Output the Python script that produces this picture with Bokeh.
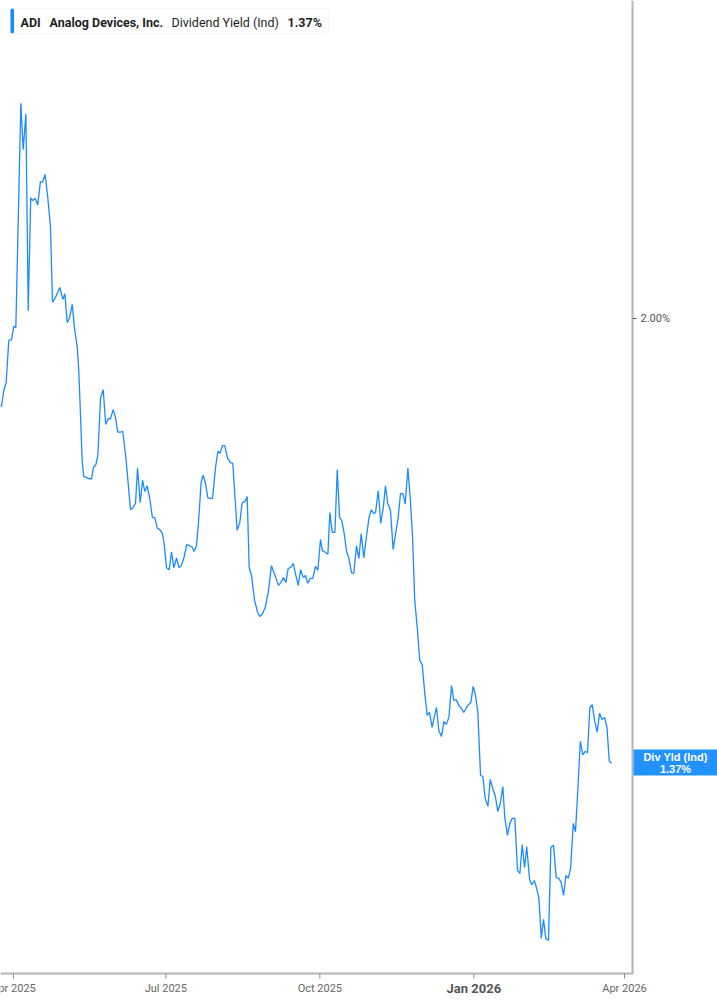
import pandas as pd
from bokeh.plotting import figure
from bokeh.models import Range1d, BoxAnnotation, Label, ColumnDataSource
from bokeh.core.properties import value
from bokeh.embed import file_html
from bokeh.resources import INLINE

# ---------------- data ----------------
start_date = "2025-03-24"
day_offsets = [0.2, 0.8, 2.2, 3.6, 5.2, 6.8, 8.2, 9.4, 12.4, 13.8,
               15.4, 16.8, 18.3, 19.4, 21.0, 22.5, 24.1, 25.3, 26.9, 28.5,
               30.1, 31.3, 32.7, 35.7, 37.5, 38.7, 40.1, 41.5, 43.1, 44.4,
               46.1, 47.0, 48.0, 49.0, 50.0, 51.6, 53.0, 54.6, 55.8, 57.2,
               58.4, 60.0, 61.6, 63.1, 64.6, 65.9, 67.6, 68.9, 70.3, 71.9,
               73.3, 75.3, 77.9, 79.3, 80.9, 82.1, 83.7, 85.1, 86.4, 87.9,
               89.3, 91.0, 92.4, 93.9, 95.4, 97.0, 98.0, 99.4, 101.0, 102.4,
               103.8, 105.4, 106.8, 108.2, 109.7, 111.5, 113.1, 114.8, 115.9, 117.3,
               118.5, 120.1, 121.3, 122.7, 124.1, 126.9, 128.7, 130.1, 131.3, 132.9,
               134.2, 135.9, 137.5, 139.0, 141.6, 143.2, 144.6, 146.4, 147.6, 148.8,
               150.2, 152.0, 153.8, 155.1, 156.6, 158.4, 160.2, 162.1, 163.1, 164.7,
               166.3, 167.7, 169.3, 170.7, 172.1, 173.5, 175.1, 176.7, 178.1, 179.5,
               181.1, 182.4, 183.8, 185.4, 186.8, 188.4, 189.8, 191.4, 192.6, 194.2,
               195.8, 197.0, 198.4, 200.0, 201.4, 202.8, 204.1, 205.6, 206.9, 208.3,
               209.9, 211.3, 212.9, 214.3, 215.7, 217.3, 218.7, 220.3, 221.7, 223.1,
               224.3, 225.9, 227.4, 228.9, 230.2, 231.6, 233.2, 234.8, 236.2, 237.6,
               239.2, 240.6, 242.0, 243.6, 245.0, 246.4, 247.7, 249.2, 250.7, 252.2,
               253.7, 255.1, 256.5, 258.1, 259.3, 260.7, 262.1, 263.7, 265.1, 266.5,
               268.1, 269.7, 271.0, 272.5, 274.0, 275.5, 277.0, 278.4, 279.8, 281.2,
               282.6, 284.0, 285.4, 287.0, 288.4, 289.8, 291.4, 292.8, 294.3, 295.8,
               297.3, 298.8, 300.3, 301.5, 303.1, 304.5, 305.9, 307.5, 309.1, 310.5,
               311.9, 313.3, 314.6, 316.3, 317.6, 319.1, 320.4, 321.8, 323.3, 324.6,
               326.0, 327.6, 329.0, 330.6, 332.2, 333.8, 335.2, 336.6, 338.0, 339.4,
               340.8, 342.4, 343.7, 345.1, 346.6, 348.1, 349.5, 350.9, 352.3, 353.7,
               355.1, 356.7, 358.1, 359.5, 361.1, 362.5, 363.9, 365.4]

yield_pct = [1.877, 1.875, 1.898, 1.909, 1.969, 1.970, 1.989, 1.987, 2.305, 2.239,
             2.290, 2.011, 2.171, 2.167, 2.170, 2.161, 2.194, 2.193, 2.204, 2.171,
             2.129, 2.023, 2.028, 2.044, 2.027, 2.035, 1.994, 2.001, 2.020, 1.987,
             1.959, 1.926, 1.865, 1.799, 1.776, 1.775, 1.773, 1.773, 1.789, 1.793,
             1.806, 1.887, 1.899, 1.850, 1.858, 1.858, 1.871, 1.860, 1.839, 1.839,
             1.840, 1.799, 1.729, 1.732, 1.738, 1.788, 1.739, 1.771, 1.755, 1.763,
             1.746, 1.718, 1.718, 1.703, 1.701, 1.695, 1.681, 1.647, 1.644, 1.669,
             1.647, 1.661, 1.647, 1.650, 1.660, 1.680, 1.678, 1.676, 1.670, 1.678,
             1.710, 1.768, 1.778, 1.766, 1.746, 1.745, 1.789, 1.812, 1.809, 1.820,
             1.820, 1.802, 1.796, 1.795, 1.700, 1.711, 1.739, 1.741, 1.748, 1.647,
             1.636, 1.601, 1.584, 1.578, 1.581, 1.591, 1.612, 1.650, 1.643, 1.633,
             1.622, 1.626, 1.633, 1.626, 1.646, 1.647, 1.653, 1.636, 1.622, 1.644,
             1.633, 1.636, 1.625, 1.632, 1.632, 1.649, 1.643, 1.687, 1.671, 1.669,
             1.666, 1.725, 1.697, 1.697, 1.786, 1.718, 1.714, 1.695, 1.671, 1.661,
             1.640, 1.639, 1.678, 1.660, 1.695, 1.661, 1.688, 1.717, 1.729, 1.724,
             1.725, 1.756, 1.710, 1.732, 1.763, 1.738, 1.728, 1.673, 1.695, 1.714,
             1.752, 1.752, 1.737, 1.788, 1.745, 1.690, 1.601, 1.562, 1.516, 1.509,
             1.469, 1.438, 1.442, 1.421, 1.435, 1.449, 1.416, 1.408, 1.429, 1.425,
             1.435, 1.480, 1.459, 1.460, 1.452, 1.448, 1.442, 1.448, 1.453, 1.456,
             1.479, 1.466, 1.442, 1.353, 1.351, 1.320, 1.309, 1.347, 1.334, 1.324,
             1.302, 1.313, 1.337, 1.293, 1.268, 1.285, 1.292, 1.292, 1.218, 1.214,
             1.255, 1.222, 1.252, 1.205, 1.198, 1.204, 1.194, 1.180, 1.122, 1.149,
             1.122, 1.119, 1.251, 1.254, 1.208, 1.207, 1.201, 1.183, 1.211, 1.207,
             1.221, 1.285, 1.273, 1.331, 1.401, 1.382, 1.387, 1.385, 1.449, 1.453,
             1.431, 1.414, 1.441, 1.432, 1.435, 1.421, 1.373, 1.370]

tick_dates = ["2025-04-01", "2025-07-01", "2025-10-01", "2026-01-01", "2026-04-01"]
tick_labels = ["Apr 2025", "Jul 2025", "Oct 2025", "Jan 2026", "Apr 2026"]
emphasized_tick = "Jan 2026"
y_ticks = [2.0]

symbol = "ADI"
company = "Analog Devices, Inc."
metric = "Dividend Yield (Ind)"
badge_title = "Div Yld (Ind)"

# ---------------- layout constants ----------------
W, H = 717, 1000
PX_PER_DAY = 1.674          # horizontal scale of the reference
PX_PER_PCT = 706.0          # vertical scale of the reference
REF_DAY0 = 0.24             # day offset at the left edge
REF_Y200 = 318              # pixel row of the 2.00% level
AXIS_X = 632                # right axis position (px)
AXIS_Y = 973                # bottom axis position (px)

start = pd.Timestamp(start_date)
dates = start + pd.to_timedelta(day_offsets, unit="D")
source = ColumnDataSource(data=dict(date=dates, yld=yield_pct))

X0 = (start + pd.Timedelta(days=REF_DAY0)).value / 1e6
X1 = X0 + (W / PX_PER_DAY) * 86400000.0
Y_TOP = 2.0 + REF_Y200 / PX_PER_PCT
Y_BOT = 2.0 - (H - REF_Y200) / PX_PER_PCT

p = figure(width=W, height=H, x_axis_type=None, y_axis_type=None,
           x_axis_location=None, y_axis_location=None,
           x_range=Range1d(X0, X1), y_range=Range1d(Y_BOT, Y_TOP),
           output_backend="svg", toolbar_location=None,
           min_border_left=0, min_border_right=0, min_border_top=0, min_border_bottom=0)
p.xgrid.visible = False
p.ygrid.visible = False
p.outline_line_color = None
p.background_fill_color = "white"
p.border_fill_color = "white"

def px2x(px):
    return X0 + px * (X1 - X0) / W

def px2y(py):
    return Y_TOP - py * (Y_TOP - Y_BOT) / H

line_blue = "#1a8cff"
axis_grey = "#b4b4b4"

# data line
p.line(x="date", y="yld", source=source, line_color=line_blue, line_width=1.3)

# ---- axes drawn through the scales ----
# right axis line
p.segment(x0=[px2x(AXIS_X)], y0=[Y_TOP], x1=[px2x(AXIS_X)], y1=[px2y(AXIS_Y)],
          line_color=axis_grey, line_width=2)
# bottom axis line
p.segment(x0=[X0], y0=[px2y(AXIS_Y)], x1=[px2x(AXIS_X + 1)], y1=[px2y(AXIS_Y)],
          line_color=axis_grey, line_width=2)

# x ticks
tick_ms = [pd.Timestamp(d).value / 1e6 for d in tick_dates]
p.segment(x0=tick_ms, y0=[px2y(AXIS_Y)] * len(tick_ms), x1=tick_ms,
          y1=[px2y(AXIS_Y + 5)] * len(tick_ms), line_color="#8a8a8a", line_width=1)
reg = [(t, l) for t, l in zip(tick_ms, tick_labels) if l != emphasized_tick]
emp = [(t, l) for t, l in zip(tick_ms, tick_labels) if l == emphasized_tick]
p.text(x=[t for t, _ in reg], y=[px2y(988)] * len(reg), text=[l for _, l in reg],
       text_align="center", text_baseline="middle", text_font=value("Roboto"),
       text_font_size="11px", text_color="#666666")
p.text(x=[t for t, _ in emp], y=[px2y(988)] * len(emp), text=[l for _, l in emp],
       text_align="center", text_baseline="middle", text_font=value("Roboto"),
       text_font_size="13px", text_font_style="bold", text_color="#555555")

# y ticks (right side)
p.segment(x0=[px2x(AXIS_X)] * len(y_ticks), y0=y_ticks,
          x1=[px2x(AXIS_X + 4)] * len(y_ticks), y1=y_ticks,
          line_color="#555555", line_width=1)
p.text(x=[px2x(AXIS_X + 8)] * len(y_ticks), y=y_ticks,
       text=[f"{v:.2f}%" for v in y_ticks], text_align="left", text_baseline="middle",
       text_font=value("Roboto"), text_font_size="11px", text_color="#555555")

# ---- top-left legend box ----
p.add_layout(BoxAnnotation(left=px2x(10), right=px2x(328), top=px2y(8), bottom=px2y(33),
                           fill_color="white", fill_alpha=1.0,
                           line_color="#dedede", line_width=1, border_radius=3))
p.add_layout(BoxAnnotation(left=px2x(10), right=px2x(13.5), top=px2y(8), bottom=px2y(33),
                           fill_color=line_blue, fill_alpha=1.0, line_color=None,
                           border_radius=2))
legend_parts = [(symbol, 20, "bold"), (company, 49, "bold"),
                (metric, 171, "normal"), (f"{yield_pct[-1]:.2f}%", 287, "bold")]
for txt, px, style in legend_parts:
    p.add_layout(Label(x=px2x(px), y=px2y(21.5), text=txt, text_align="left",
                       text_baseline="middle", text_font="Roboto",
                       text_font_size="12.5px", text_font_style=style,
                       text_color="#1f1f1f"))

# ---- right-side last value badge ----
p.add_layout(BoxAnnotation(left=px2x(AXIS_X + 1), right=X1, top=px2y(749), bottom=px2y(775),
                           fill_color="#2192ff", fill_alpha=1.0, line_color=None))
p.add_layout(Label(x=px2x(675), y=px2y(756.5), text=badge_title, text_align="center",
                   text_baseline="middle", text_font="Liberation Sans",
                   text_font_size="11px", text_font_style="bold", text_color="white"))
p.add_layout(Label(x=px2x(675), y=px2y(768), text=f"{yield_pct[-1]:.2f}%",
                   text_align="center", text_baseline="middle", text_font="Liberation Sans",
                   text_font_size="11px", text_font_style="bold", text_color="white"))

open("out.html", "w").write(file_html(p, INLINE))
